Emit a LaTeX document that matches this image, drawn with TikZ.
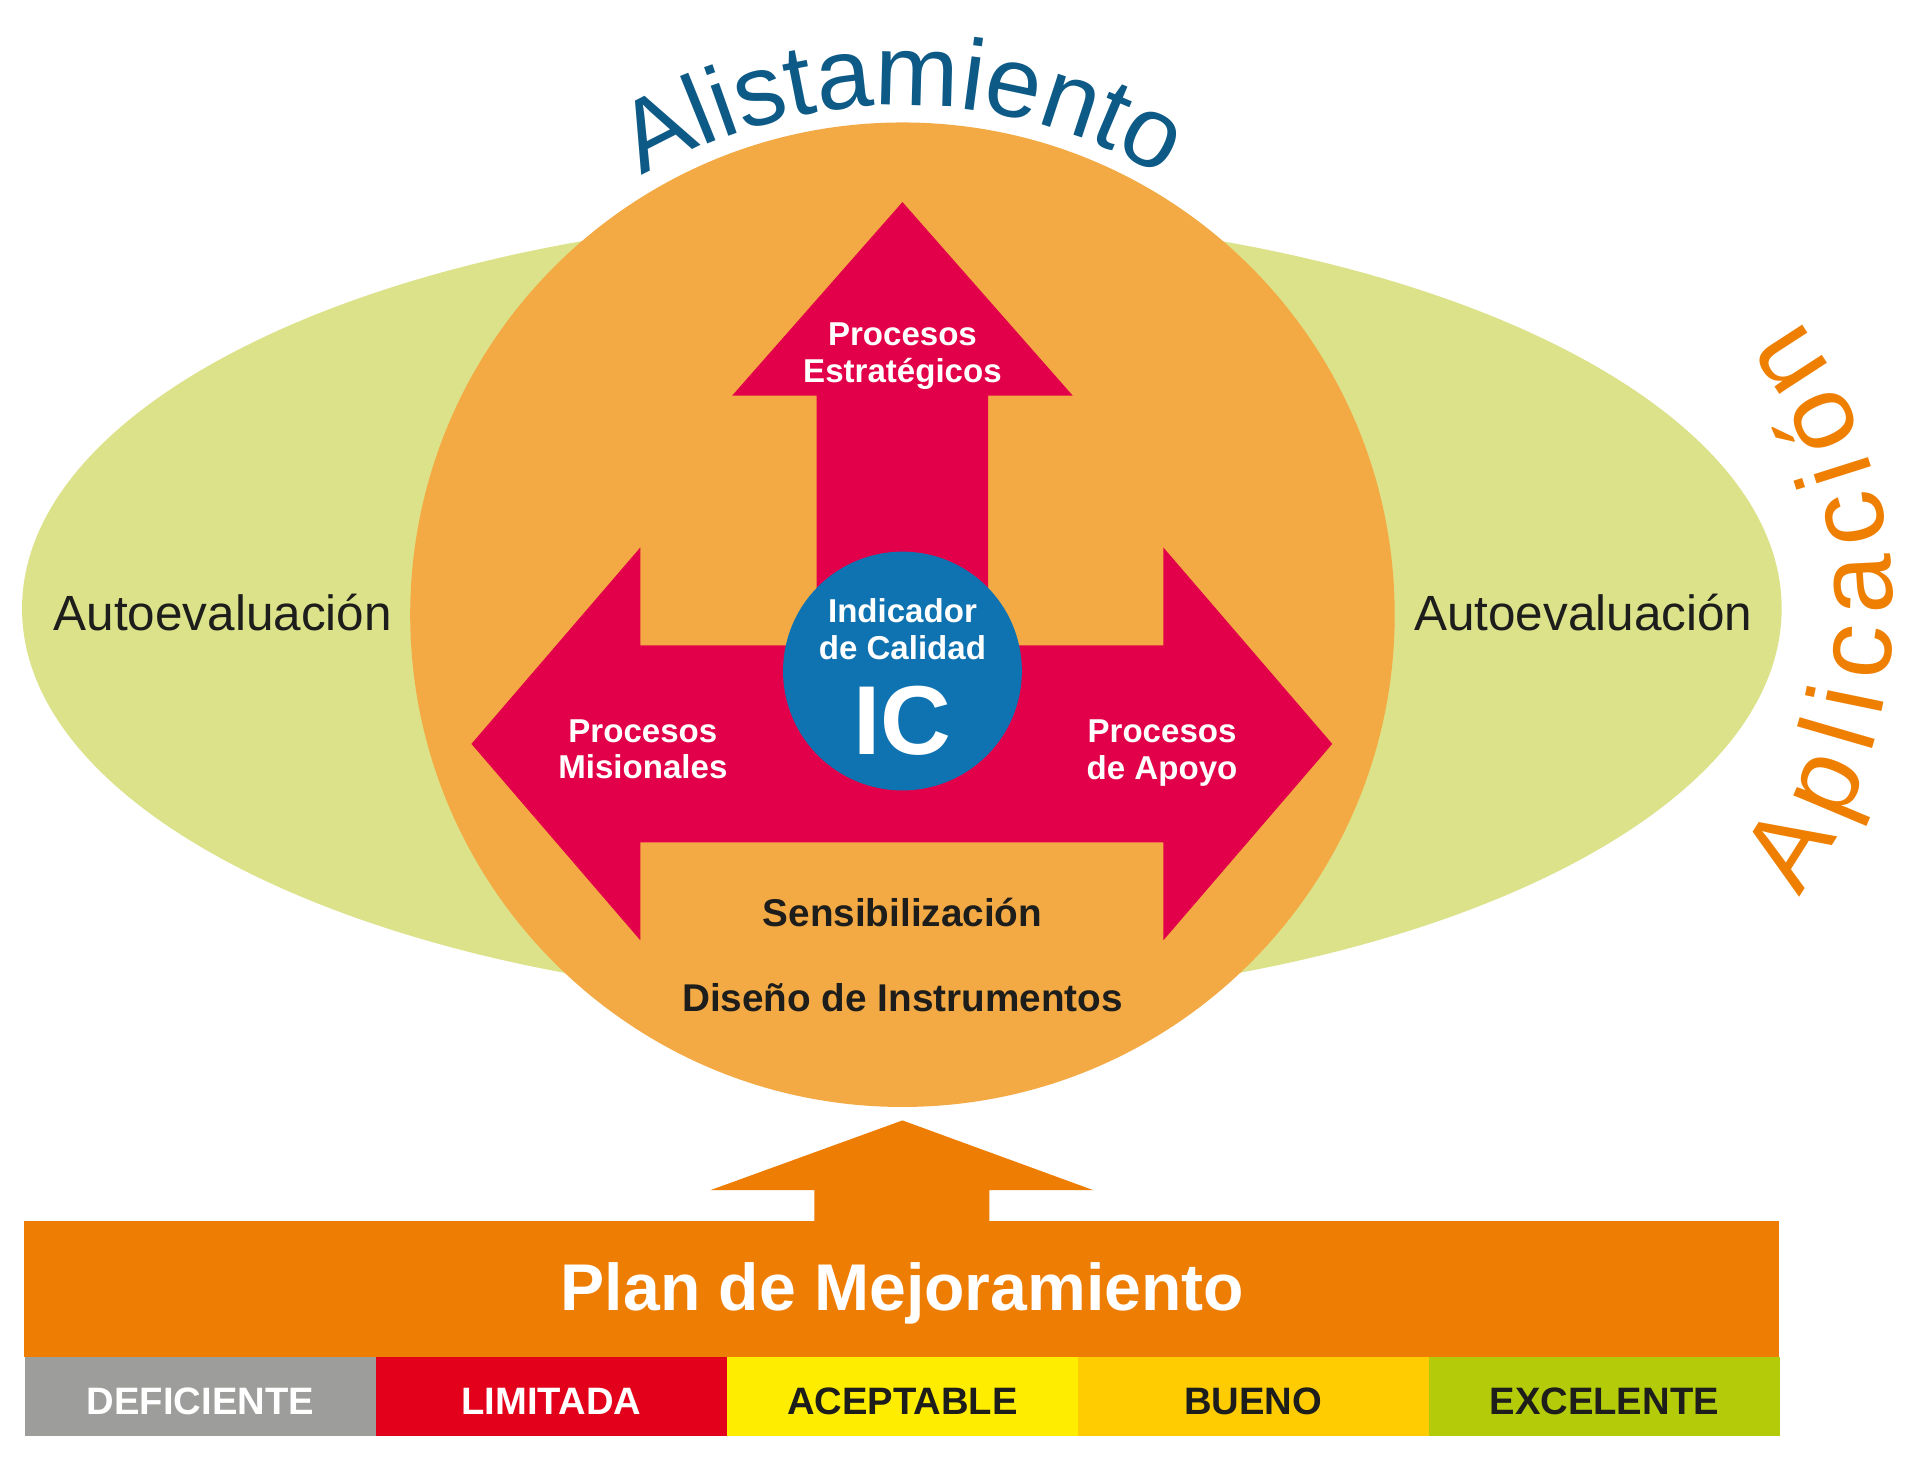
\documentclass[tikz,border=0pt]{standalone}
\usepackage{fontspec}
\setmainfont{Liberation Sans}
\usetikzlibrary{decorations.text}
\definecolor{elgreen}{HTML}{DCE28A}
\definecolor{circorange}{HTML}{F4AA44}
\definecolor{crossred}{HTML}{E2004A}
\definecolor{icblue}{HTML}{0F73B1}
\definecolor{alistblue}{HTML}{0D5A87}
\definecolor{aplorange}{HTML}{EE7F00}
\definecolor{planorange}{HTML}{EE7D03}
\definecolor{cgray}{HTML}{9D9D9C}
\definecolor{cred}{HTML}{E2001A}
\definecolor{cyellow}{HTML}{FFED00}
\definecolor{cgold}{HTML}{FECC00}
\definecolor{cgreen}{HTML}{B3CB08}
\definecolor{darktext}{HTML}{1D1D1B}
\newcommand\alistfont{\fontsize{41}{41}\selectfont}
\newcommand\aplfont{\fontsize{44}{44}\selectfont}
\begin{document}
\begin{tikzpicture}[x=0.5pt,y=-0.5pt,
  wlbl/.style={text=white, font=\bfseries\fontsize{13.5}{15}\selectfont, align=center, inner sep=0pt},
  dlbl/.style={text=darktext, font=\bfseries\fontsize{15.8}{18}\selectfont, inner sep=0pt},
  autolbl/.style={text=darktext, font=\fontsize{20.2}{24}\selectfont, inner sep=0pt},
  barlbl/.style={font=\bfseries\fontsize{15.6}{18}\selectfont, inner sep=0pt},
  seg/.style={draw=none, inner sep=0pt, minimum width=143.3pt, minimum height=32pt}]
\useasboundingbox (0,0) rectangle (1568,1196);
\fill[white] (0,0) rectangle (1568,1196);
% green ellipse
\fill[elgreen] (736.5,497) ellipse[x radius=718.5, y radius=322];
% orange circle
\fill[circorange] (737,502) circle[radius=402];
% red cross arrows
\fill[crossred] (737,165) -- (876,323) -- (807,323) -- (807,527) -- (950,527) -- (950,447)
  -- (1088,607.5) -- (950,768) -- (950,688) -- (523,688) -- (523,768) -- (385,607.5)
  -- (523,447) -- (523,527) -- (667,527) -- (667,323) -- (598,323) -- cycle;
% blue circle
\fill[icblue] (737,548) circle[radius=97.5];
% texts in the circle
\node[wlbl] (estr) at (737,291) {Procesos\\Estratégicos};
\node[wlbl] (mis) at (525,612) {Procesos\\Misionales};
\node[wlbl] (apoyo) at (949,615) {Procesos\\de Apoyo};
\node[wlbl] (ind) at (737,514) {Indicador\\de Calidad};
\node[text=white, font=\bfseries\fontsize{40}{40}\selectfont, inner sep=0pt] (ic) at (737,589) {IC};
\node[dlbl] (sens) at (737,745) {Sensibilización};
\node[dlbl] (dis) at (737,815) {Diseño de Instrumentos};
\node[autolbl] (autoL) at (182,500) {Autoevaluación};
\node[autolbl] (autoR) at (1293,500) {Autoevaluación};
% curved titles
\path[decorate, decoration={text along path, text={|\alistfont|Alistamiento}, text align=center, text color=alistblue}]
  (737,502) ++(200:416) arc[start angle=200, end angle=340, radius=416];
\path[decorate, decoration={text along path, text={|\aplfont|Aplicación}, text align=fit to path, text color=aplorange}]
  (1150,497) ++(36.5:396) arc[start angle=36.5, end angle=-36.5, radius=396];
% bottom arrow and plan bar
\fill[planorange] (737,915) -- (893,972) -- (808,972) -- (808,998) -- (665,998) -- (665,972) -- (580,972) -- cycle;
\fill[planorange] (20,997) rectangle (1453,1108);
\node[text=white, font=\bfseries\fontsize{27}{30}\selectfont, inner sep=0pt] (plan) at (737,1056) {Plan de Mejoramiento};
% rating bar
\node[seg, fill=cgray, anchor=north west] (s1) at (20,1108) {};
\node[seg, fill=cred, anchor=north west] (s2) at (306.6,1108) {};
\node[seg, fill=cyellow, anchor=north west] (s3) at (593.2,1108) {};
\node[seg, fill=cgold, anchor=north west] (s4) at (879.8,1108) {};
\node[seg, fill=cgreen, anchor=north west] (s5) at (1166.4,1108) {};
\node[barlbl, text=white] (l1) at ([yshift=-2pt]s1.center) {DEFICIENTE};
\node[barlbl, text=white] (l2) at ([yshift=-2pt]s2.center) {LIMITADA};
\node[barlbl, text=darktext] (l3) at ([yshift=-2pt]s3.center) {ACEPTABLE};
\node[barlbl, text=darktext] (l4) at ([yshift=-2pt]s4.center) {BUENO};
\node[barlbl, text=darktext] (l5) at ([yshift=-2pt]s5.center) {EXCELENTE};
\end{tikzpicture}
\end{document}
